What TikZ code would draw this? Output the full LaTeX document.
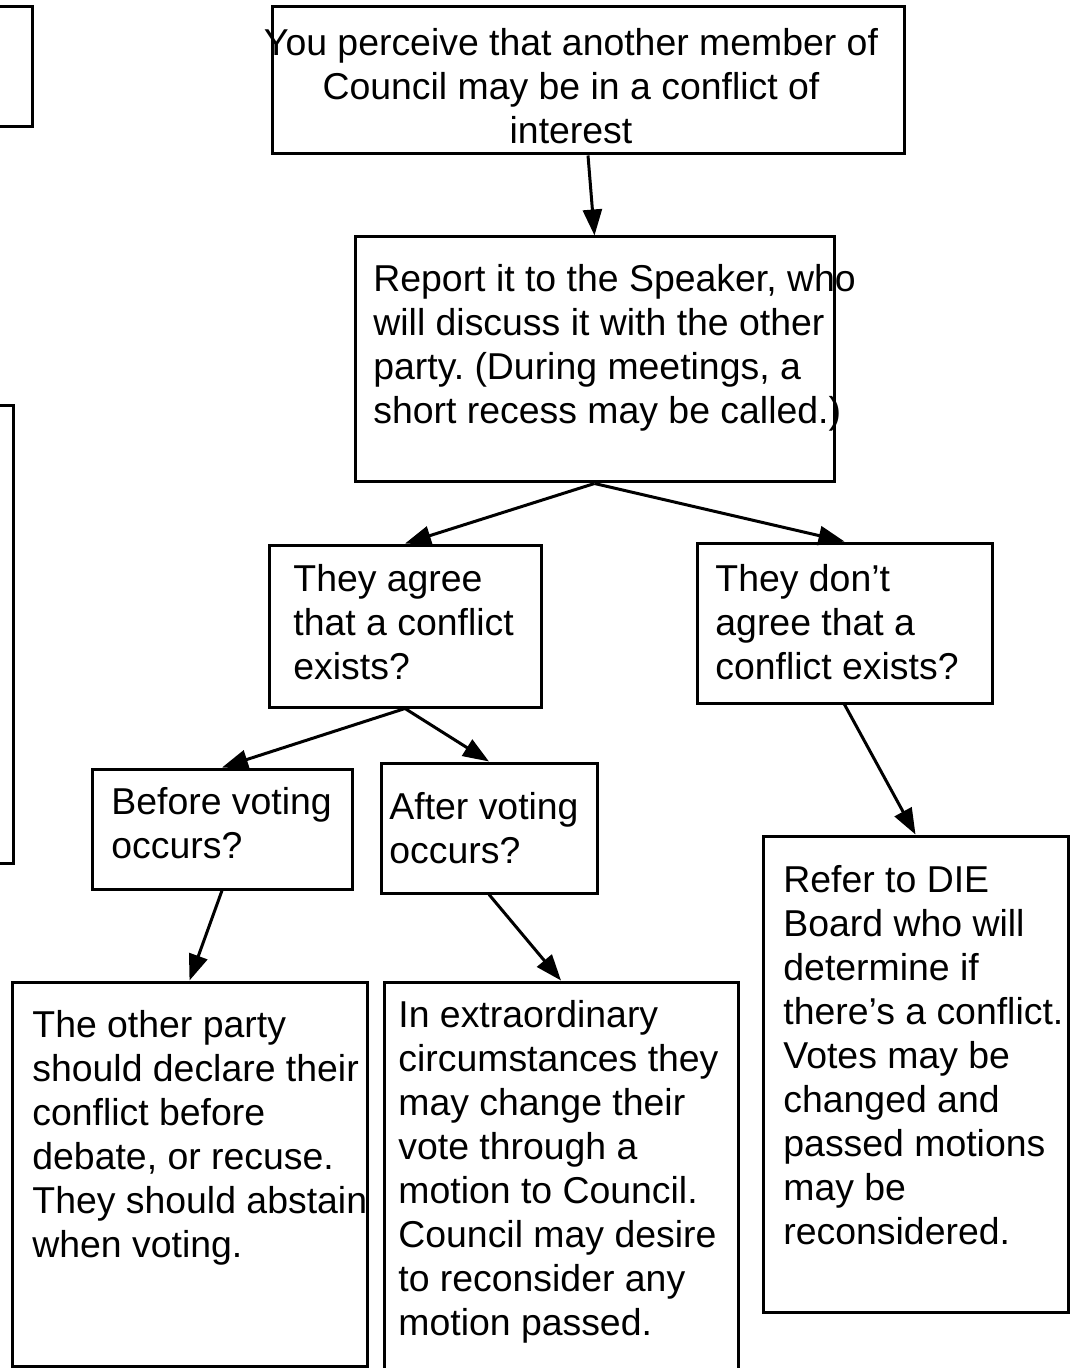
\documentclass[tikz,border=0pt]{standalone}
\usepackage{fontspec}
\setmainfont{Liberation Sans}
\usetikzlibrary{arrows.meta,fit}

\begin{document}
\frenchspacing
\begin{tikzpicture}[
  x=0.5pt, y=-0.5pt,
  font=\fontsize{18.7}{22}\selectfont,
  panel/.style={draw, line width=1.5pt, inner sep=0pt},
  ptext/.style={anchor=north west, inner sep=0pt, align=left,
                execute at begin node=\strut},
  arr/.style={-{Triangle[length=13pt, width=9.5pt]}, line width=1.5pt},
]
\useasboundingbox (0,0) rectangle (1071,1368);
\node[panel, fit={(-10,7) (32,127)}] (edgetop) {};
\node[panel, fit={(-10,406) (13,863)}] (edgemid) {};
\node[panel, fit={(272,7) (904,154)}] (perceive) {};
\node[panel, fit={(355,237) (834,482)}] (report) {};
\node[panel, fit={(269,545) (541,707)}] (agree) {};
\node[panel, fit={(697,543) (992,703)}] (disagree) {};
\node[panel, fit={(92,769) (352,889)}] (before) {};
\node[panel, fit={(381,763) (597,893)}] (after) {};
\node[panel, fit={(12,982) (367,1366)}] (declare) {};
\node[panel, fit={(384,982) (738,1385)}] (extra) {};
\node[panel, fit={(763,836) (1068,1312)}] (refer) {};

\node[ptext, anchor=north, align=center] (t-perceive) at (571,28)
  {You perceive that another member of\\Council may be in a conflict of\\interest};
\node[ptext] (t-report) at (373,264.5)
  {Report it to the Speaker, who\\will discuss it with the other\\party. (During meetings, a\\short recess may be called.)};
\node[ptext] (t-agree) at (293,564)
  {They agree\\that a conflict\\exists?};
\node[ptext] (t-disagree) at (715,564)
  {They don’t\\agree that a\\conflict exists?};
\node[ptext] (t-before) at (111,787)
  {Before voting\\occurs?};
\node[ptext] (t-after) at (389,792)
  {After voting\\occurs?};
\node[ptext] (t-declare) at (32,1010)
  {The other party\\should declare their\\conflict before\\debate, or recuse.\\They should abstain\\when voting.};
\node[ptext] (t-extra) at (398,999.5)
  {In extraordinary\\circumstances they\\may change their\\vote through a\\motion to Council.\\Council may desire\\to reconsider any\\motion passed.};
\node[ptext] (t-refer) at (783,865)
  {Refer to DIE\\Board who will\\determine if\\there’s a conflict.\\Votes may be\\changed and\\passed motions\\may be\\reconsidered.};

\draw[arr] (perceive.south) -- (report.north);
\draw[arr] (report.south) -- (agree.north);
\draw[arr] (report.south) -- (disagree.north);
\draw[arr] (agree.south) -- (before.north);
\draw[arr] (agree.south) -- (after.north);
\draw[arr] (before.south) -- (declare.north);
\draw[arr] (after.south) -- (extra.north);
\draw[arr] (disagree.south) -- (refer.north);
\end{tikzpicture}
\end{document}
